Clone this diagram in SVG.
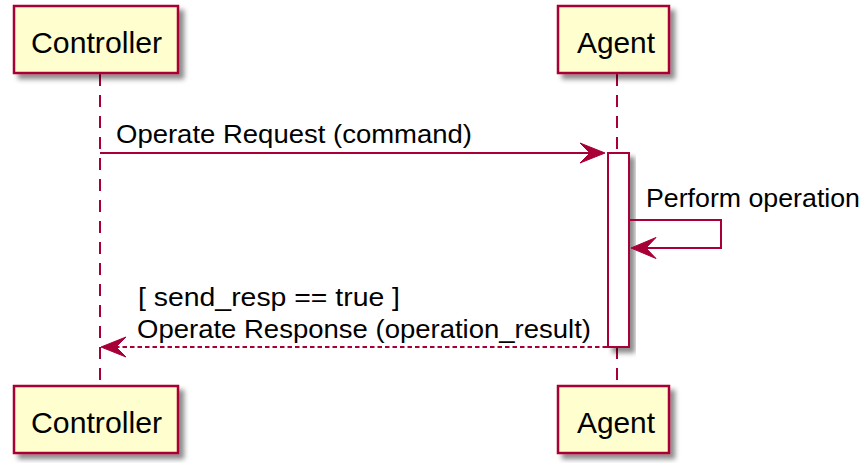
<svg xmlns="http://www.w3.org/2000/svg" width="867" height="463" viewBox="0 0 867 463">
<defs>
<filter id="sh" x="-20%" y="-20%" width="150%" height="150%">
<feGaussianBlur in="SourceAlpha" stdDeviation="2.5"/>
<feOffset dx="5" dy="5" result="b"/>
<feFlood flood-color="#000" flood-opacity="0.45"/>
<feComposite in2="b" operator="in"/>
<feMerge><feMergeNode/><feMergeNode in="SourceGraphic"/></feMerge>
</filter>
<style>
.box{fill:#FEFECE;stroke:#A80036;stroke-width:2.5;filter:url(#sh)}
.act{fill:#FFFFFF;stroke:#A80036;stroke-width:2;filter:url(#sh)}
.life{stroke:#A80036;stroke-width:2;stroke-dasharray:12,9;fill:none}
.msg{stroke:#A80036;stroke-width:2;fill:none}
.ret{stroke:#A80036;stroke-width:2;fill:none;stroke-dasharray:4.5,3}
.head{fill:#A80036;stroke:#A80036;stroke-width:1}
.pt{font-family:"Liberation Sans",Arial,sans-serif;font-size:29px;fill:#000}
.mt{font-family:"Liberation Sans",Arial,sans-serif;font-size:25px;fill:#000}
</style>
</defs>
<g id="lifelines">
<line class="life" x1="100" y1="74" x2="100" y2="385"/>
<line class="life" x1="617" y1="74" x2="617" y2="385"/>
</g>
<g id="controller-top">
<rect class="box" x="14" y="6" width="164" height="67"/>
<text class="pt" x="31" y="53" textLength="131" lengthAdjust="spacingAndGlyphs">Controller</text>
</g>
<g id="agent-top">
<rect class="box" x="558" y="6" width="111" height="67"/>
<text class="pt" x="577" y="53" textLength="78" lengthAdjust="spacingAndGlyphs">Agent</text>
</g>
<g id="controller-bottom">
<rect class="box" x="14" y="386" width="164" height="67"/>
<text class="pt" x="31" y="433" textLength="131" lengthAdjust="spacingAndGlyphs">Controller</text>
</g>
<g id="agent-bottom">
<rect class="box" x="558" y="386" width="111" height="67"/>
<text class="pt" x="577" y="433" textLength="78" lengthAdjust="spacingAndGlyphs">Agent</text>
</g>
<g id="agent-activation">
<rect class="act" x="608" y="153" width="21" height="194"/>
</g>
<g id="connectors">
<line class="msg" x1="100" y1="153" x2="603" y2="153"/>
<polygon class="head" points="580,143 605,153 580,163 590,153"/>
<text class="mt" x="116" y="143" textLength="356" lengthAdjust="spacingAndGlyphs">Operate Request (command)</text>
<polyline class="msg" points="629,220 721,220 721,248 634,248"/>
<polygon class="head" points="656,237.5 631,248 656,258.5 646,248"/>
<text class="mt" x="646" y="207" textLength="214" lengthAdjust="spacingAndGlyphs">Perform operation</text>
<line class="ret" x1="607" y1="347" x2="103" y2="347"/>
<polygon class="head" points="126,337 101,347 126,357 116,347"/>
<text class="mt" x="138" y="306" textLength="262" lengthAdjust="spacingAndGlyphs">[ send_resp == true ]</text>
<text class="mt" x="137" y="338" textLength="454" lengthAdjust="spacingAndGlyphs">Operate Response (operation_result)</text>
</g>
</svg>
